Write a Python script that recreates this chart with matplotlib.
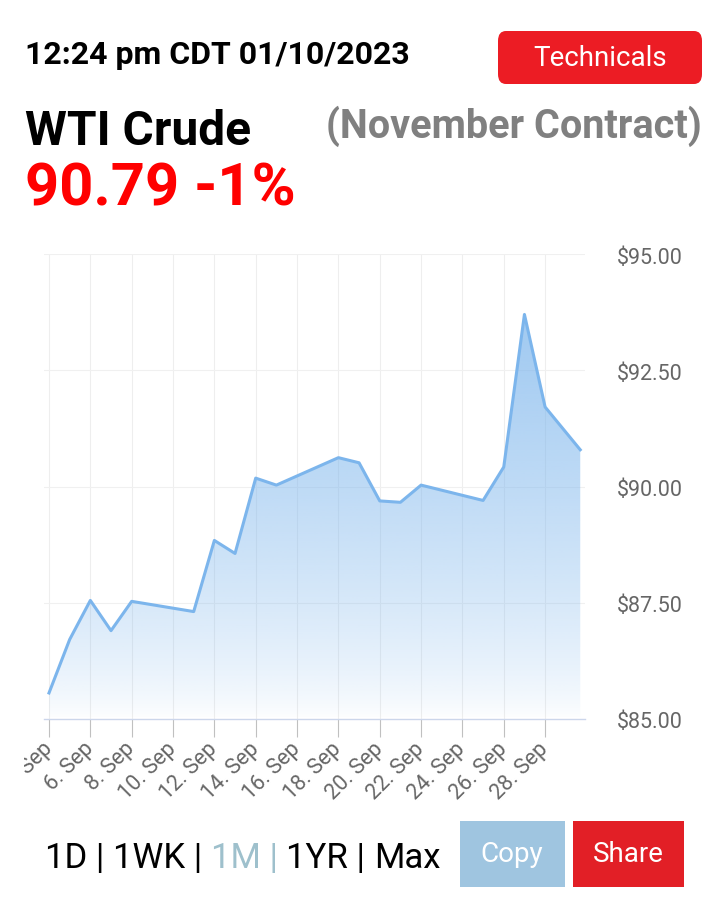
import numpy as np
import matplotlib
matplotlib.use("Agg")
import matplotlib.pyplot as plt
from matplotlib.patches import Polygon, FancyBboxPatch, Rectangle
from matplotlib.transforms import ScaledTranslation, Bbox, TransformedBbox

plt.rcParams['font.family'] = ['Roboto', 'DejaVu Sans']

# price data (day of September, close)
days = [4, 5, 6, 7, 8, 11, 12, 13, 14, 15, 18, 19, 20, 21, 22, 25, 26, 27, 28, 29.7]
prices = [85.56, 86.71, 87.55, 86.90, 87.53, 87.31, 88.84, 88.56, 90.18, 90.03,
          90.62, 90.51, 89.69, 89.66, 90.03, 89.70, 90.42, 93.70, 91.71, 90.79]
tick_days = [4, 6, 8, 10, 12, 14, 16, 18, 20, 22, 24, 26, 28]
tick_labels = [f"{d}. Sep" for d in tick_days]
y_ticks = [85, 87.5, 90, 92.5, 95]
y_labels = ["$85.00", "$87.50", "$90.00", "$92.50", "$95.00"]
ranges = ["1D", "1WK", "1M", "1YR", "Max"]
active_range = "1M"

W, H = 718, 902
line_color = "#7cb5ec"


def fx(x):
    return x / W


def fy(y):
    return 1 - y / H


fig = plt.figure(figsize=(W / 100, H / 100), dpi=100)

# chart area
ax = fig.add_axes([fx(44), fy(719), fx(585) - fx(44), fy(254) - fy(719)])
x0, x1 = 3.758, 29.93
ax.set_xlim(x0, x1)
ax.set_ylim(85, 95)

# gradient fill under the line, clipped to the area polygon
f = np.linspace(0, 1, 256)
grad = np.zeros((256, 1, 4))
grad[:, 0, 0] = 124 / 255
grad[:, 0, 1] = 181 / 255
grad[:, 0, 2] = 236 / 255
grad[:, 0, 3] = 0.8 * (1 - f) ** 0.7
img = ax.imshow(grad, extent=[x0, x1, 85, 95], aspect='auto', origin='upper', zorder=2)
verts = list(zip(days, prices)) + [(days[-1], 85), (days[0], 85)]
poly = Polygon(verts, closed=True, facecolor='none', edgecolor='none', transform=ax.transData)
ax.add_patch(poly)
img.set_clip_path(poly)

ax.plot(days, prices, color=line_color, lw=2.2, zorder=3, solid_joinstyle='round')

# grid
for d in tick_days:
    ax.axvline(d, color="#eeeeee", lw=0.8, zorder=1)
for v in y_ticks[1:]:
    ax.axhline(v, color="#f0f0f0", lw=0.8, zorder=1)

for s in ['top', 'right', 'left']:
    ax.spines[s].set_visible(False)
ax.spines['bottom'].set_color("#ccd6eb")
ax.spines['bottom'].set_linewidth(1.0)
ax.spines['bottom'].set_zorder(4)

ax.set_xticks(tick_days)
ax.set_xticklabels(tick_labels, rotation=45, ha='right', va='center', rotation_mode='anchor')
ax.tick_params(axis='x', length=13, width=0.8, color="#c0c0c0", pad=6.5,
               labelsize=15.5, labelcolor="#666666")
# first label is cut by the left edge in the original widget
first = ax.get_xticklabels()[0]
first.set_clip_on(True)
first.set_clip_box(TransformedBbox(Bbox([[fx(24), 0], [1, 1]]), fig.transFigure))

ax.yaxis.tick_right()
ax.set_yticks(y_ticks)
ax.set_yticklabels(y_labels)
ax.tick_params(axis='y', length=0, pad=23, labelsize=15.5, labelcolor="#666666")
for lab in ax.get_yticklabels():
    lab.set_verticalalignment('center')
    lab.set_transform(lab.get_transform() + ScaledTranslation(0, -0.04, fig.dpi_scale_trans))

# header
fig.text(fx(25), fy(64), "12:24 pm CDT 01/10/2023", fontsize=23, fontweight='bold',
         color='black', va='baseline', ha='left')
btn = FancyBboxPatch((fx(498), fy(84)), fx(204), fy(31) - fy(84),
                     boxstyle="round,pad=0,rounding_size=0.011",
                     transform=fig.transFigure, facecolor="#ec1c24", edgecolor='none')
fig.patches.append(btn)
fig.text(fx(600), fy(58), "Technicals", fontsize=20, color='white', ha='center', va='center')

fig.text(fx(25), fy(145), "WTI Crude", fontsize=34.5, fontweight='bold', color='black',
         va='baseline', ha='left')
fig.text(fx(702), fy(138), "(November Contract)", fontsize=28.5, fontweight='bold',
         color="#808080", va='baseline', ha='right')
fig.text(fx(25), fy(205), "90.79 -1%", fontsize=43, fontweight='bold', color="#ff0000",
         va='baseline', ha='left')

# range selector
renderer = fig.canvas.get_renderer()
xpos = 45
for i, r in enumerate(ranges):
    piece = r + (" | " if i < len(ranges) - 1 else "")
    col = "#9ec0cc" if r == active_range else "black"
    t = fig.text(fx(xpos), fy(868), piece, fontsize=25, color=col, va='baseline', ha='left')
    bb = t.get_window_extent(renderer)
    xpos += bb.width

# buttons
fig.patches.append(Rectangle((fx(460), fy(887)), fx(105), fy(821) - fy(887),
                             transform=fig.transFigure, facecolor="#9fc5e0", edgecolor='none'))
fig.patches.append(Rectangle((fx(573), fy(887)), fx(111), fy(821) - fy(887),
                             transform=fig.transFigure, facecolor="#e21f26", edgecolor='none'))
fig.text(fx(512), fy(854), "Copy", fontsize=20, color='white', ha='center', va='center')
fig.text(fx(628), fy(854), "Share", fontsize=20, color='white', ha='center', va='center')

fig.savefig("out.png", dpi=100)
